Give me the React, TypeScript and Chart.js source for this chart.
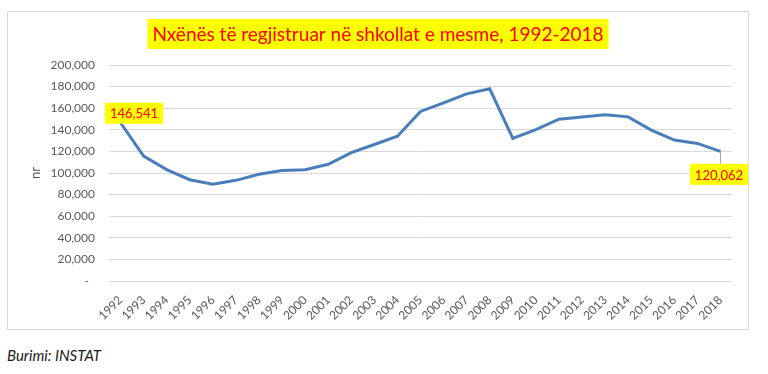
import React, { useEffect, useRef } from "react";
import { Chart, registerables } from "chart.js";

Chart.register(...registerables);

const years: string[] = [
  "1992", "1993", "1994", "1995", "1996", "1997", "1998", "1999", "2000",
  "2001", "2002", "2003", "2004", "2005", "2006", "2007", "2008", "2009",
  "2010", "2011", "2012", "2013", "2014", "2015", "2016", "2017", "2018",
];

const students: number[] = [
  146541, 115600, 103200, 93800, 89600, 93200, 98900, 102400, 103000,
  108100, 118800, 126400, 134000, 157000, 164900, 173300, 178000, 132000,
  140200, 149800, 151800, 153900, 152000, 139700, 130500, 127400, 120062,
];

const titleText = "Nxënës të regjistruar në shkollat e mesme, 1992-2018";
const yAxisTitle = "nr";
const sourceText = "Burimi: INSTAT";
const labelledIndexes: number[] = [0, 26];

const FONT = "Lato, 'Open Sans', sans-serif";

const fmt = (v: number) => v.toLocaleString("en-US");

export default function App() {
  const canvasRef = useRef<HTMLCanvasElement | null>(null);

  useEffect(() => {
    if (!canvasRef.current) return;

    const titleFontSize = 19;
    const titleCenterY = 22;

    const titleBox = {
      id: "titleBox",
      afterDraw(chart: any) {
        const ctx = chart.ctx;
        ctx.save();
        ctx.font = `${titleFontSize}px ${FONT}`;
        const w = ctx.measureText(titleText).width;
        const cx = chart.width / 2;
        ctx.fillStyle = "#ffff00";
        ctx.fillRect(cx - w / 2 - 5, titleCenterY - 15, w + 10, 30);
        ctx.fillStyle = "#ff0000";
        ctx.textAlign = "center";
        ctx.textBaseline = "middle";
        ctx.fillText(titleText, cx, titleCenterY + 1);
        ctx.restore();
      },
    };

    const endLabels = {
      id: "endLabels",
      afterDatasetsDraw(chart: any) {
        const meta = chart.getDatasetMeta(0);
        const ctx = chart.ctx;
        ctx.save();
        ctx.font = `13px ${FONT}`;
        labelledIndexes.forEach((i, k) => {
          const pt = meta.data[i];
          if (!pt) return;
          const text = fmt(students[i]);
          const w = ctx.measureText(text).width + 10;
          const h = 21;
          let cx: number, cy: number;
          if (k === 0) {
            cx = pt.x + 13.5;
            cy = pt.y - 9.5;
          } else {
            cx = pt.x - 1.5;
            cy = pt.y + 23;
            ctx.strokeStyle = "#a6a6a6";
            ctx.lineWidth = 1;
            ctx.beginPath();
            ctx.moveTo(Math.round(pt.x) + 0.5, pt.y);
            ctx.lineTo(Math.round(pt.x) + 0.5, cy - h / 2);
            ctx.stroke();
          }
          ctx.fillStyle = "#ffff00";
          ctx.fillRect(cx - w / 2, cy - h / 2, w, h);
          ctx.fillStyle = "#ff0000";
          ctx.textAlign = "center";
          ctx.textBaseline = "middle";
          ctx.fillText(text, cx, cy + 1);
        });
        ctx.restore();
      },
    };

    const chart = new Chart(canvasRef.current, {
      type: "line",
      data: {
        labels: years,
        datasets: [
          {
            data: students,
            borderColor: "#4A7EBB",
            borderWidth: 3,
            pointRadius: 0,
            tension: 0,
            fill: false,
          },
        ],
      },
      options: {
        animation: false,
        responsive: true,
        maintainAspectRatio: false,
        layout: { padding: { left: 0, right: 16, top: 53, bottom: 0 } },
        plugins: {
          legend: { display: false },
          tooltip: { enabled: false },
          title: { display: false },
        },
        scales: {
          x: {
            offset: true,
            grid: { display: false },
            border: { display: false },
            ticks: {
              color: "#595959",
              font: { family: FONT, size: 12 },
              minRotation: 45,
              maxRotation: 45,
              autoSkip: false,
              padding: 4,
            },
            afterFit(scale: any) {
              scale.height = 48;
            },
          },
          y: {
            min: 0,
            max: 200000,
            grid: { color: "#d9d9d9", drawTicks: false, lineWidth: 1 },
            border: { display: false },
            ticks: {
              stepSize: 20000,
              color: "#595959",
              font: { family: FONT, size: 12 },
              padding: 14,
              callback: (v: any) => (Number(v) === 0 ? "-  " : fmt(Number(v))),
            },
            title: {
              display: true,
              text: yAxisTitle,
              color: "#595959",
              font: { family: FONT, size: 13 },
              padding: { top: 20, bottom: 0 },
            },
            afterFit(scale: any) {
              scale.width = 101;
            },
          },
        },
      },
      plugins: [titleBox, endLabels],
    });

    return () => chart.destroy();
  }, []);

  return (
    <div>
      <div
        style={{
          position: "absolute",
          left: 7,
          top: 11,
          width: 742,
          height: 319,
          border: "1px solid #d9d9d9",
          boxSizing: "border-box",
          background: "#fff",
        }}
      >
        <div style={{ position: "relative", width: 740, height: 317 }}>
          <canvas ref={canvasRef} />
        </div>
      </div>
      <div
        style={{
          position: "absolute",
          left: 7,
          top: 344,
          fontFamily: FONT,
          fontStyle: "italic",
          fontSize: 15,
          color: "#1a1a1a",
          lineHeight: "22px",
        }}
      >
        {sourceText}
      </div>
    </div>
  );
}
